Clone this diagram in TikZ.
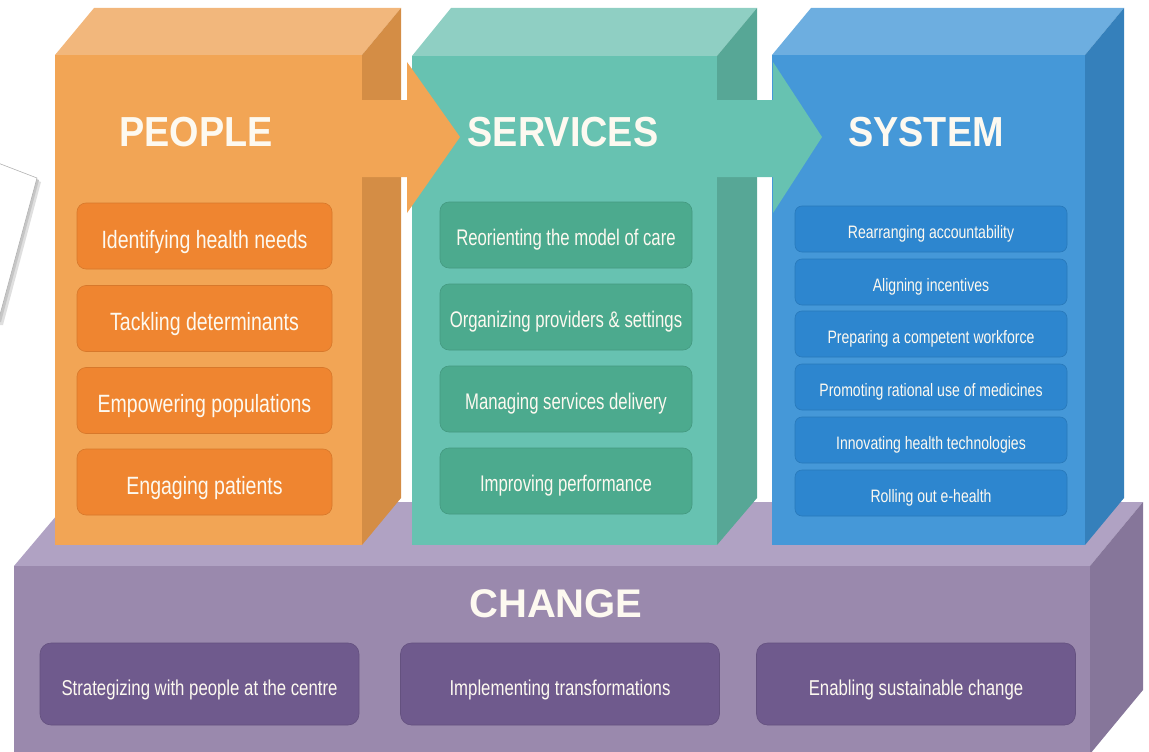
\documentclass[tikz,border=0pt]{standalone}
\usepackage{fontspec}
\setmainfont{Liberation Sans}
\newfontfamily\narfont[FakeStretch=0.78]{Liberation Sans}
\newfontfamily\sarfont[FakeStretch=0.74]{Liberation Sans}
\newfontfamily\titfont[FakeStretch=0.9]{Liberation Sans}
\definecolor{pfront}{HTML}{F2A555}
\definecolor{ptop}{HTML}{F2B77C}
\definecolor{pside}{HTML}{D48D45}
\definecolor{pin}{HTML}{EF8530}
\definecolor{sfront}{HTML}{67C2B1}
\definecolor{stop}{HTML}{8FCFC3}
\definecolor{sside}{HTML}{57A796}
\definecolor{sin}{HTML}{4CAA8E}
\definecolor{yfront}{HTML}{4598D8}
\definecolor{ytop}{HTML}{6DAEE0}
\definecolor{yside}{HTML}{3580BB}
\definecolor{yin}{HTML}{2D86CF}
\definecolor{cfront}{HTML}{9A89AD}
\definecolor{ctop}{HTML}{B0A2C3}
\definecolor{cside}{HTML}{86769A}
\definecolor{cin}{HTML}{6F5A8D}
\definecolor{txt}{HTML}{FDF9F0}
\begin{document}
\begin{tikzpicture}[x=1pt,y=-1pt,
  item/.style={rounded corners=9pt, text=txt, align=center, inner sep=0pt, text depth=0pt},
  pitem/.style={item, fill=pin, draw=pin!90!black, line width=0.6pt, minimum width=255pt, minimum height=66pt, text height=24pt, font={\narfont\fontsize{25}{30}\selectfont}},
  sitem/.style={item, fill=sin, draw=sin!90!black, line width=0.6pt, minimum width=252pt, minimum height=66pt, text height=20pt, font={\sarfont\fontsize{22.6}{26}\selectfont}},
  yitem/.style={item, fill=yin, draw=yin!90!black, line width=0.6pt, minimum width=272pt, minimum height=46pt, text height=18pt, rounded corners=7pt, font={\narfont\fontsize{18}{22}\selectfont}},
  citem/.style={item, fill=cin, draw=cin!90!black, line width=0.6pt, minimum width=319pt, minimum height=82pt, text height=22pt, rounded corners=11pt, font={\narfont\fontsize{21.5}{26}\selectfont}},
  title/.style={text=txt, font={\titfont\bfseries\fontsize{42}{48}\selectfont}},
  ctitle/.style={text=txt, font={\bfseries\fontsize{40}{46}\selectfont}}
]
\useasboundingbox (0,0) rectangle (1149,752);
% paper sheet at left
\fill[gray!25] (0,167) -- (41,182) -- (3,325) -- (0,325) -- cycle;
\fill[gray!45] (0,165) -- (39,180) -- (1,322) -- (0,322) -- cycle;
\filldraw[fill=white, draw=gray!60, line width=0.6pt] (-2,163) -- (37,178) -- (-2,322) -- cycle;
% CHANGE base box
\fill[ctop] (14,566) -- (68,502) -- (1143,502) -- (1090,566) -- cycle;
\fill[cside] (1090,566) -- (1143,502) -- (1143,690) -- (1090,754) -- cycle;
\fill[cfront] (14,566) rectangle (1090,754);
% PEOPLE column
\fill[ptop] (55,55) -- (94,8) -- (401,8) -- (362,55) -- cycle;
\fill[pside] (362,55) -- (401,8) -- (401,498) -- (362,545) -- cycle;
\fill[pfront] (55,55) rectangle (362,545);
% SERVICES column
\fill[stop] (412,56) -- (451,8) -- (757,8) -- (717,56) -- cycle;
\fill[sside] (717,56) -- (757,8) -- (757,498) -- (717,545) -- cycle;
\fill[sfront] (412,56) rectangle (717,545);
% arrow PEOPLE -> SERVICES
\fill[pfront] (362,100) -- (407,100) -- (407,62) -- (460,137) -- (407,213) -- (407,177) -- (362,177) -- cycle;
% SYSTEM column
\fill[ytop] (772,55) -- (811,8) -- (1124,8) -- (1085,55) -- cycle;
\fill[yside] (1085,55) -- (1124,8) -- (1124,498) -- (1085,545) -- cycle;
\fill[yfront] (772,55) rectangle (1085,545);
% arrow SERVICES -> SYSTEM
\fill[sfront] (717,100) -- (773,100) -- (773,62) -- (822,137) -- (773,213) -- (773,177) -- (717,177) -- cycle;
% titles
\node[title] (tp) at (196,132) {PEOPLE};
\node[title] (ts) at (563,132) {SERVICES};
\node[title] (ty) at (926,132) {SYSTEM};
\node[ctitle] (tc) at (556,604) {CHANGE};
% PEOPLE items
\node[pitem] (p1) at (204.5,236) {Identifying health needs};
\node[pitem] (p2) at (204.5,318.5) {Tackling determinants};
\node[pitem] (p3) at (204.5,400.5) {Empowering populations};
\node[pitem] (p4) at (204.5,482) {Engaging patients};
% SERVICES items
\node[sitem] (s1) at (566,235) {Reorienting the model of care};
\node[sitem] (s2) at (566,317) {Organizing providers \& settings};
\node[sitem] (s3) at (566,399) {Managing services delivery};
\node[sitem] (s4) at (566,481) {Improving performance};
% SYSTEM items
\node[yitem] (y1) at (931,229) {Rearranging accountability};
\node[yitem] (y2) at (931,282) {Aligning incentives};
\node[yitem] (y3) at (931,334) {Preparing a competent workforce};
\node[yitem] (y4) at (931,387) {Promoting rational use of medicines};
\node[yitem] (y5) at (931,440) {Innovating health technologies};
\node[yitem] (y6) at (931,493) {Rolling out e-health};
% CHANGE items
\node[citem] (c1) at (199.5,684) {Strategizing with people at the centre};
\node[citem] (c2) at (560,684) {Implementing transformations};
\node[citem] (c3) at (916,684) {Enabling sustainable change};
\end{tikzpicture}
\end{document}
